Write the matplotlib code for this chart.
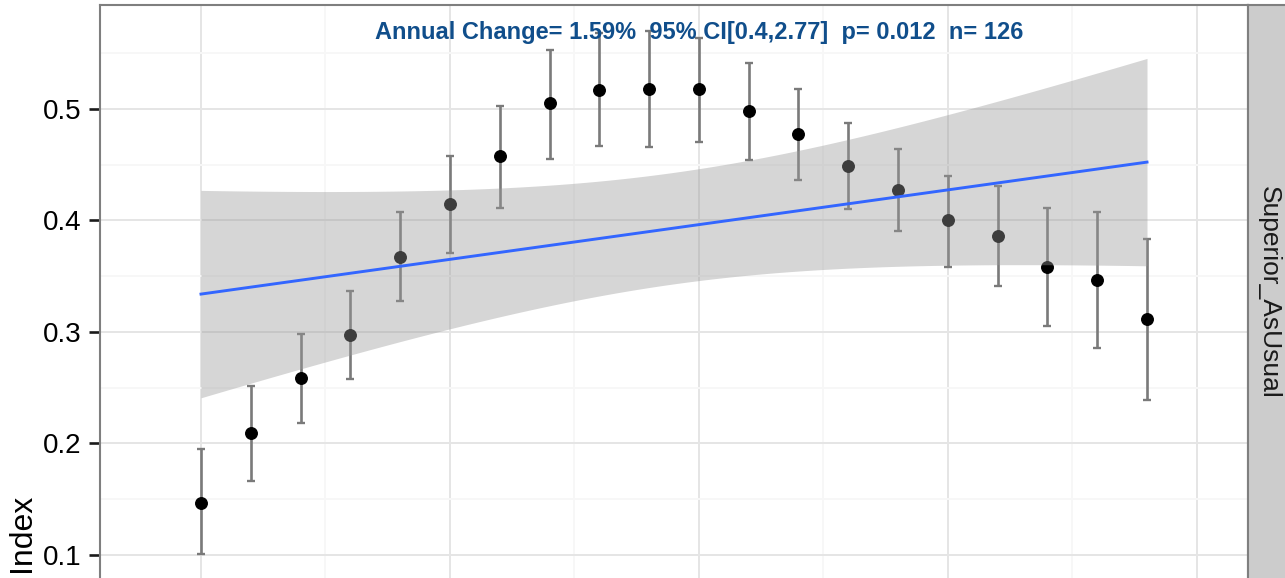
import matplotlib
matplotlib.use("Agg")
import matplotlib.pyplot as plt
import numpy as np
from matplotlib import font_manager

# ---- data -------------------------------------------------------------
years = list(range(1990, 2010))
index_mean = [0.147, 0.209, 0.259, 0.297, 0.367, 0.415, 0.458, 0.505, 0.517, 0.518,
              0.518, 0.498, 0.478, 0.449, 0.427, 0.400, 0.386, 0.358, 0.347, 0.312]
ci_low = [0.101, 0.166, 0.218, 0.258, 0.328, 0.371, 0.411, 0.455, 0.467, 0.466,
          0.470, 0.454, 0.436, 0.410, 0.391, 0.358, 0.341, 0.305, 0.286, 0.239]
ci_high = [0.195, 0.252, 0.298, 0.337, 0.408, 0.458, 0.503, 0.553, 0.568, 0.570,
           0.564, 0.541, 0.518, 0.487, 0.464, 0.440, 0.431, 0.411, 0.408, 0.383]

# linear trend (fitted on respondent level data) and its 95% band
trend_first = 0.334        # fitted value in the first year
trend_slope = 0.00623      # change per year
band_half_mid = 0.050      # half width of the band at the centre of the range
band_half_edge = 0.093     # half width of the band at either end

annual_change = 1.59
change_ci = (0.4, 2.77)
p_value = 0.012
n_obs = 126

facet_label = "Superior_AsUsual"
y_label = "Index"
y_ticks = [0.1, 0.2, 0.3, 0.4, 0.5]

# ---- fonts ------------------------------------------------------------
installed = {f.name for f in font_manager.fontManager.ttflist}
base_font = "Liberation Sans" if "Liberation Sans" in installed else "DejaVu Sans"
ann_font = "Liberation Sans Narrow" if "Liberation Sans Narrow" in installed else base_font
plt.rcParams["font.family"] = [base_font, "DejaVu Sans"]

W, H = 1285, 578
fig = plt.figure(figsize=(W / 100, H / 100), dpi=100)
fig.patch.set_facecolor("white")

def fx(px):
    return px / W

def fy(py):
    return 1 - py / H

panel_l, panel_r, panel_t, panel_b = 100, 1248, 5, 580
ax = fig.add_axes([fx(panel_l), fy(panel_b), fx(panel_r - panel_l), (panel_b - panel_t) / H])

# grid positions
major_x = np.arange(1990, 2011, 5)
minor_x = np.arange(1992.5, 2011, 5)
ax.set_xticks(major_x)
ax.set_xticks(minor_x, minor=True)
ax.set_yticks(y_ticks)
ax.set_yticks([0.15, 0.25, 0.35, 0.45, 0.55], minor=True)
ax.set_yticklabels([f"{v:g}" for v in y_ticks])

# view limits (set after the ticks so they are not widened)
x0 = years[0]
px_per_year = 49.79
ax.set_xlim(x0 - (201 - panel_l) / px_per_year, x0 + (panel_r - 201) / px_per_year)
y_per_px = 1 / 1115
ax.set_ylim(0.5 - (panel_b - 109) * y_per_px, 0.5 + (109 - panel_t) * y_per_px)

ax.grid(which="major", color="#E5E5E5", linewidth=1.4, zorder=0)
ax.grid(which="minor", color="#F7F7F7", linewidth=1.4, zorder=0)
ax.set_axisbelow(True)

for s in ax.spines.values():
    s.set_color("#7F7F7F")
    s.set_linewidth(1.5)

ax.tick_params(axis="x", which="both", bottom=False, labelbottom=False)
ax.tick_params(axis="y", which="minor", left=False)
ax.tick_params(axis="y", which="major", length=8, width=1.9, color="#1A1A1A",
               labelsize=20, pad=5.5, labelcolor="black")

# error bars and means
yr = np.array(years, dtype=float)
m = np.array(index_mean)
lo = np.array(ci_low)
hi = np.array(ci_high)
ax.errorbar(yr, m, yerr=[m - lo, hi - m], fmt="none", ecolor="#7A7A7A",
            elinewidth=1.9, capsize=2.7, capthick=1.7, zorder=2)
ax.plot(yr, m, "o", color="black", markersize=8.3, zorder=3)

# trend line with confidence band
xs = np.linspace(yr[0], yr[-1], 200)
fit = trend_first + trend_slope * (xs - yr[0])
xc = (yr[0] + yr[-1]) / 2
k = (band_half_edge ** 2 - band_half_mid ** 2) / (yr[-1] - xc) ** 2
half = np.sqrt(band_half_mid ** 2 + k * (xs - xc) ** 2)
ax.fill_between(xs, fit - half, fit + half, color="#999999", alpha=0.4,
                linewidth=0, zorder=4)
ax.plot(xs, fit, color="#3366FF", linewidth=2.1, zorder=5)

ann = (f"Annual Change= {annual_change}%  95% CI[{change_ci[0]},{change_ci[1]}]  "
       f"p= {p_value}  n= {n_obs}")
ax.text((699 - panel_l) / (panel_r - panel_l), 1 - (33 - panel_t) / (panel_b - panel_t),
        ann, transform=ax.transAxes, ha="center", va="center",
        fontsize=17, fontweight="bold", color="#104E8B", family=ann_font, zorder=6)

# facet strip
sax = fig.add_axes([fx(panel_r), fy(panel_b), fx(44), (panel_b - panel_t) / H])
sax.set_facecolor("#CCCCCC")
sax.set_xticks([])
sax.set_yticks([])
for s in sax.spines.values():
    s.set_color("#7F7F7F")
    s.set_linewidth(1.5)
sax.text(fx(1269), fy(292), facet_label, transform=fig.transFigure,
         rotation=-90, ha="center", va="center", fontsize=19, color="#1A1A1A")

fig.text(fx(22), fy(533), y_label, rotation=90, ha="center", va="center",
         fontsize=23, color="black")

fig.savefig("out.png", dpi=100, facecolor="white")
